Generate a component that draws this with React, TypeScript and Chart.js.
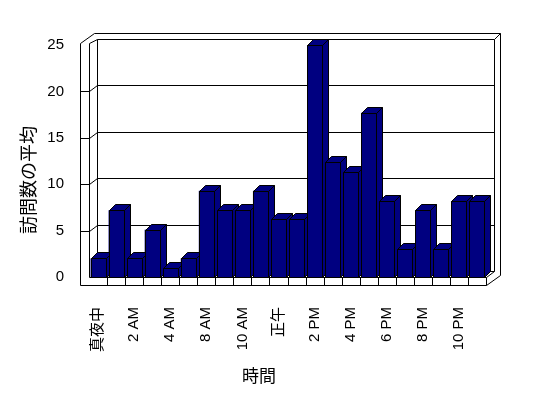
import React, { useEffect, useRef } from "react";
import { Chart, registerables } from "chart.js";
Chart.register(...registerables);

const hours = ["真夜中", "1 AM", "2 AM", "3 AM", "4 AM", "6 AM", "8 AM", "9 AM", "10 AM", "11 AM", "正午", "1 PM", "2 PM", "3 PM", "4 PM", "5 PM", "6 PM", "7 PM", "8 PM", "9 PM", "10 PM", "11 PM"];
const visits = [2, 7.2, 2, 5.1, 1, 2, 9.3, 7.2, 7.2, 9.3, 6.2, 6.2, 25, 12.4, 11.3, 17.7, 8.2, 3, 7.2, 3, 8.2, 8.2];
const yMin = 0;
const yMax = 25;
const yStep = 5;
const yTitle = "訪問数の平均";
const xTitle = "時間";

const NAVY = "#000080";
const WALL = 9, FLOOR = 8, D1X = 8, D1Y = 6, D2X = 14, D2Y = 10, BDX = 6, BDY = 6;

const px = (v: number) => Math.round(v) + 0.5;

function poly(ctx: CanvasRenderingContext2D, pts: number[][], fill?: string, close = true) {
  ctx.beginPath();
  pts.forEach(([a, b], i) => (i ? ctx.lineTo(px(a), px(b)) : ctx.moveTo(px(a), px(b))));
  if (close) ctx.closePath();
  if (fill) {
    ctx.fillStyle = fill;
    ctx.fill();
  }
  ctx.stroke();
}

const frame3d = {
  id: "frame3d",
  beforeDatasetsDraw(chart: any) {
    const { ctx, chartArea: a, scales } = chart;
    const ys = scales.y, xs = scales.x;
    const L = a.left, R = a.right, T = a.top, B = a.bottom;
    const top = T - 2;
    ctx.save();
    ctx.lineWidth = 1;
    ctx.strokeStyle = "#000";
    poly(ctx, [[L - WALL, top], [L - WALL + D2X, top - D2Y], [R + D2X, top - D2Y], [R + D2X, B + FLOOR - D2Y], [R, B + FLOOR], [L - WALL, B + FLOOR]], "#fff");
    poly(ctx, [[L + D1X, T - D1Y], [R + D1X, T - D1Y], [R + D1X, B - D1Y], [L + D1X, B - D1Y]]);
    poly(ctx, [[L, top], [L, B], [R, B], [R, B + FLOOR]], undefined, false);
    poly(ctx, [[L, top], [L + D1X, T - D1Y]], undefined, false);
    poly(ctx, [[R + D1X, T - D1Y], [R + D2X, top - D2Y]], undefined, false);
    poly(ctx, [[R, B], [R + D1X, B - D1Y]], undefined, false);
    for (let v = yMin + yStep; v < yMax; v += yStep) {
      const yf = ys.getPixelForValue(v);
      poly(ctx, [[L + D1X, yf - D1Y], [R + D1X, yf - D1Y]], undefined, false);
      poly(ctx, [[L - WALL, yf], [L, yf], [L + D1X, yf - D1Y]], undefined, false);
    }
    const n = hours.length;
    for (let i = 1; i < n; i++) {
      const xx = (xs.getPixelForTick(i - 1) + xs.getPixelForTick(i)) / 2;
      poly(ctx, [[xx, B], [xx, B + FLOOR]], undefined, false);
    }
    ctx.restore();
  },
  afterDatasetsDraw(chart: any) {
    const { ctx } = chart;
    const meta = chart.getDatasetMeta(0);
    ctx.save();
    ctx.lineWidth = 1;
    ctx.strokeStyle = "#000";
    meta.data.forEach((bar: any) => {
      const { x, y, base, width } = bar.getProps(["x", "y", "base", "width"], true);
      const l = x - width / 2, r = x + width / 2;
      poly(ctx, [[r, y], [r + BDX, y - BDY], [r + BDX, base - BDY], [r, base]], NAVY);
      poly(ctx, [[l, y], [l + BDX, y - BDY], [r + BDX, y - BDY], [r, y]], NAVY);
      poly(ctx, [[l, y], [r, y], [r, base], [l, base]], NAVY);
    });
    ctx.restore();
  },
  afterDraw(chart: any) {
    const { ctx } = chart;
    ctx.save();
    ctx.fillStyle = "#000";
    ctx.textAlign = "center";
    ctx.textBaseline = "middle";
    ctx.font = '17px "Noto Sans CJK JP"';
    ctx.fillText(xTitle, 259, 376);
    ctx.font = '18px "Noto Sans CJK JP"';
    ctx.translate(28, 180);
    ctx.rotate(-Math.PI / 2);
    ctx.fillText(yTitle, 0, 0);
    ctx.restore();
  },
};

export default function App() {
  const ref = useRef<HTMLCanvasElement>(null);
  useEffect(() => {
    const chart = new Chart(ref.current!, {
      type: "bar",
      data: {
        labels: hours,
        datasets: [{ data: visits, backgroundColor: NAVY, borderWidth: 0, barPercentage: 0.83, categoryPercentage: 1 }],
      },
      options: {
        responsive: false,
        animation: false,
        devicePixelRatio: 1,
        layout: { padding: { top: 45, right: 62, left: 0, bottom: 0 } },
        plugins: { legend: { display: false }, tooltip: { enabled: false }, title: { display: false } },
        scales: {
          x: {
            grid: { display: false },
            border: { display: false },
            afterFit: (s: any) => { s.height = 121; },
            ticks: {
              autoSkip: false,
              minRotation: 90,
              maxRotation: 90,
              padding: 22,
              color: "#000",
              font: { family: '"Liberation Sans", "Noto Sans CJK JP"', size: 15 },
              callback: (_v: any, i: number) => (i % 2 === 0 ? hours[i] : ""),
            },
          },
          y: {
            min: yMin,
            max: yMax,
            grid: { display: false },
            border: { display: false },
            afterFit: (s: any) => { s.width = 89; },
            ticks: {
              stepSize: yStep,
              padding: 17,
              color: "#000",
              font: { family: '"Liberation Sans"', size: 15 },
            },
          },
        },
      },
      plugins: [frame3d],
    });
    return () => chart.destroy();
  }, []);
  return (
    <div style={{ position: "fixed", left: 0, top: 0, width: 548, height: 398, background: "#fff" }}>
      <canvas ref={ref} width={548} height={398} style={{ display: "block" }} />
    </div>
  );
}
